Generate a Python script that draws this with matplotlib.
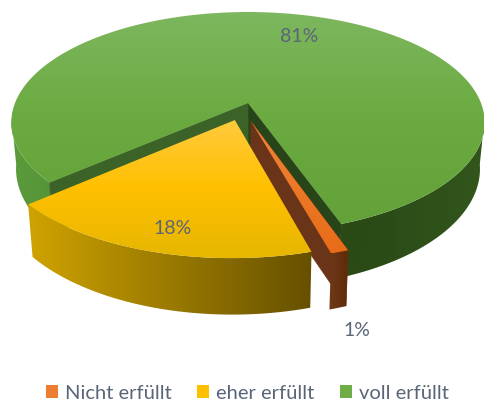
import numpy as np
import matplotlib
matplotlib.use("Agg")
from matplotlib import pyplot as plt
from matplotlib.colors import LinearSegmentedColormap
from matplotlib.patches import Patch, Polygon

categories = ["Nicht erfüllt", "eher erfüllt", "voll erfüllt"]
values = [1, 18, 81]
colors = ["#ED7D31", "#FFC000", "#70AD47"]

# 3D look: pixel space of the picture, perspective disk
cx, cy = 248, 103
rx, ry = 233, 107
persp = 0.176
depth = 45
start_angle = 160.5
offsets = [(0.012, -0.165), (-0.055, -0.155), (0, 0)]

# gradients, top to bottom on faces, left to right on walls
top_grads = [["#EF8538", "#E86C18"], ["#FFCB3E", "#FFC000", "#E6B600"], ["#7DB75E", "#6BAA41", "#62A239"]]
wall_grads = [["#703A1A", "#5E2A08"], ["#CFA300", "#9A7A00", "#665000"],
              ["#5C9C3C", "#4A8230", "#2A4A16", "#2A4A16", "#32561C"]]
inner_orange = "#693418"
inner_left = "#3C6327"
inner_right = "#28451A"

plt.rcParams["font.family"] = ["Lato", "DejaVu Sans"]
text_color = "#5A6678"

fig = plt.figure(figsize=(4.85, 4.01), dpi=100)
ax = fig.add_axes([0, 0, 1, 1])
layer = [1]


def next_layer():
    layer[0] += 1
    return layer[0]


def project(u, v, low=False):
    w = 1 + persp * v
    x = cx + rx * u / w
    y = cy - ry * v / w
    if low:
        x = cx + (x - cx) * 0.98
        y = y + depth / w
    return x, y


def rim(a0, a1, off, low=False):
    t = np.radians(np.linspace(a0, a1, 200))
    return np.array([project(np.sin(a) + off[0], np.cos(a) + off[1], low) for a in t])


def grad_fill(pts, stops, vertical, x_range=None):
    cmap = LinearSegmentedColormap.from_list("g", stops)
    g = np.linspace(0, 1, 256)
    g = g[:, None] if vertical else g[None, :]
    x0, x1 = x_range if x_range else (pts[:, 0].min(), pts[:, 0].max())
    y0, y1 = pts[:, 1].min(), pts[:, 1].max()
    z = next_layer()
    im = ax.imshow(g, cmap=cmap, extent=(x0, x1, y1, y0), origin="upper", aspect="auto",
                   interpolation="bilinear", zorder=z)
    poly = Polygon(pts, closed=True, fc="none", ec="none")
    ax.add_patch(poly)
    im.set_clip_path(poly)


def flat(pts, color):
    ax.add_patch(Polygon(pts, closed=True, fc=color, ec=color, lw=0.4, zorder=next_layer()))


angles = np.cumsum([0] + values) * 3.6 + start_angle
# back to front: green, orange, yellow
for i in [2, 0, 1]:
    a0, a1 = angles[i], angles[i + 1]
    off = offsets[i]
    tip = np.array(project(off[0], off[1]))
    tip_low = np.array(project(off[0], off[1], True))
    top = rim(a0, a1, off)
    low = rim(a0, a1, off, True)

    if i == 2:
        # green runs round the back, only the near arcs get a wall
        for p, q in [(a0, 262), (98, a1 - 360)]:
            wall = np.vstack([rim(p, q, off), rim(p, q, off, True)[::-1]])
            grad_fill(wall, wall_grads[2], vertical=False, x_range=(11, 485))
        flat(np.array([tip, top[-1], low[-1], tip_low]), inner_right)
        flat(np.array([tip, top[0], low[0], tip_low]), inner_left)
    else:
        wall = np.vstack([top, low[::-1]])
        if i == 0:
            flat(np.array([tip, top[0], low[0], tip_low]), inner_orange)
        grad_fill(wall, wall_grads[i], vertical=False)

    grad_fill(np.vstack([tip, top]), top_grads[i], vertical=True)

ax.set_xlim(0, 485)
ax.set_ylim(401, 0)
ax.axis("off")

# percent labels
label_xy = [(357, 330), (173, 228), (299, 36)]
for v, (x, y) in zip(values, label_xy):
    ax.text(x, y, "%d%%" % v, ha="center", va="center", fontsize=14, color=text_color, zorder=100)

handles = [Patch(fc=c, ec="none") for c in colors]
fig.legend(handles, categories, loc="lower center", bbox_to_anchor=(0.51, -0.047), ncol=3,
           frameon=False, fontsize=14.5, labelcolor=text_color, handlelength=0.6, handleheight=0.6,
           handletextpad=0.35, columnspacing=1.25)

fig.savefig("out.png", dpi=100)
